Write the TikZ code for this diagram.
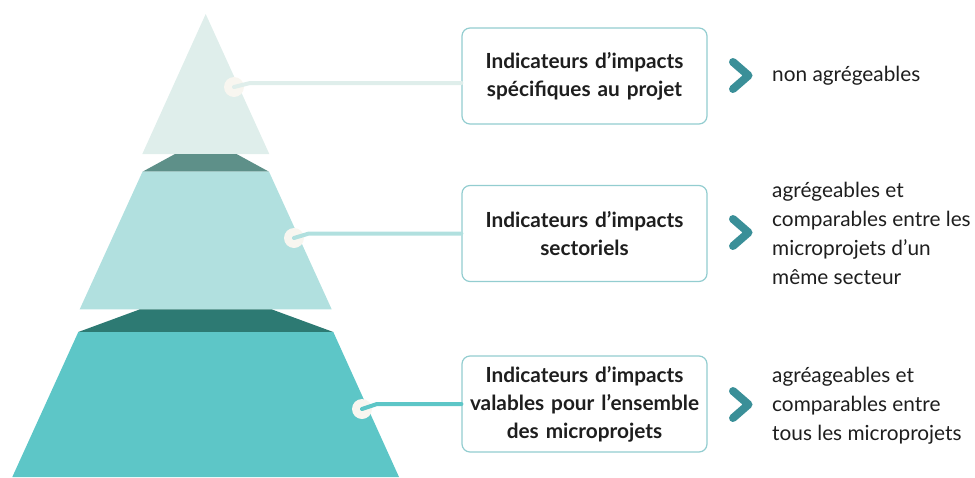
\documentclass[tikz,border=0pt]{standalone}
\usepackage{fontspec}
\setmainfont{Lato}
\definecolor{tierA}{HTML}{DFEEEB}
\definecolor{bandA}{HTML}{5E9089}
\definecolor{tierB}{HTML}{B1E0DF}
\definecolor{bandB}{HTML}{2D7A73}
\definecolor{tierC}{HTML}{5DC6C7}
\definecolor{dotc}{HTML}{F8F6F0}
\definecolor{boxc}{HTML}{93CDD0}
\definecolor{chevc}{HTML}{3A8F98}
\definecolor{txt}{HTML}{1E1E1E}
\tikzset{
  dot/.style={circle,fill=dotc,minimum size=20pt,inner sep=0pt},
  conn/.style={line width=4pt,line cap=round,line join=round},
  ibox/.style={draw=boxc,line width=1.2pt,rounded corners=8pt,fill=white,
    minimum width=245pt,minimum height=96pt,text width=240pt,align=center,
    inner sep=0pt,text=txt,font=\fontsize{20.8}{28}\selectfont\bfseries},
  chev/.style={draw=chevc,line width=8pt,line cap=round,line join=round},
  rtext/.style={anchor=west,align=left,inner sep=0pt,text=txt,
    font=\fontsize{20.8}{29}\selectfont}
}
\begin{document}
\begin{tikzpicture}[x=1pt,y=-1pt]
\useasboundingbox (0,0) rectangle (975,477);
% pyramid
\fill[tierA] (205.7,14) -- (269.3,154) -- (142.3,154) -- cycle;
\fill[bandA] (175,154) -- (236.5,154) -- (269,171.7) -- (142.5,171.7) -- cycle;
\fill[tierB] (142.5,171.7) -- (269,171.7) -- (331.7,309.3) -- (79.7,309.3) -- cycle;
\fill[bandB] (140,309.3) -- (271.5,309.3) -- (333.3,332) -- (78.3,332) -- cycle;
\fill[tierC] (78.3,332) -- (333.3,332) -- (399,477) -- (12.3,477) -- cycle;
% boxes
\node[ibox] (b1) at (584.5,76) {Indicateurs d’impacts\\spécifiques au projet};
\node[ibox] (b2) at (584.5,233.5) {Indicateurs d’impacts\\sectoriels};
\node[ibox] (b3) at (584.5,404) {Indicateurs d’impacts\\valables pour l’ensemble\\des microprojets};
% dots and connectors
\node[dot] (d1) at (234,87) {};
\node[dot] (d2) at (294,238) {};
\node[dot] (d3) at (362,409) {};
\coordinate (k1) at (250,83);
\coordinate (k2) at (309,233.5);
\coordinate (k3) at (377,404);
\draw[conn,tierA] (d1.center) -- (k1) -- (k1 -| b1.west);
\draw[conn,tierB] (d2.center) -- (k2) -- (k2 -| b2.west);
\draw[conn,tierC] (d3.center) -- (k3) -- (k3 -| b3.west);
% chevrons
\draw[chev] (733,62) -- (748.5,75.5) -- (733,89);
\draw[chev] (733,219) -- (748.5,232.5) -- (733,246);
\draw[chev] (733,391) -- (748.5,404.5) -- (733,418);
% right texts
\node[rtext] (r1) at (772,76) {non agrégeables};
\node[rtext] (r2) at (772,233.5) {agrégeables et\\comparables entre les\\microprojets d’un\\même secteur};
\node[rtext] (r3) at (772,405.5) {agréageables et\\comparables entre\\tous les microprojets};
\end{tikzpicture}
\end{document}
